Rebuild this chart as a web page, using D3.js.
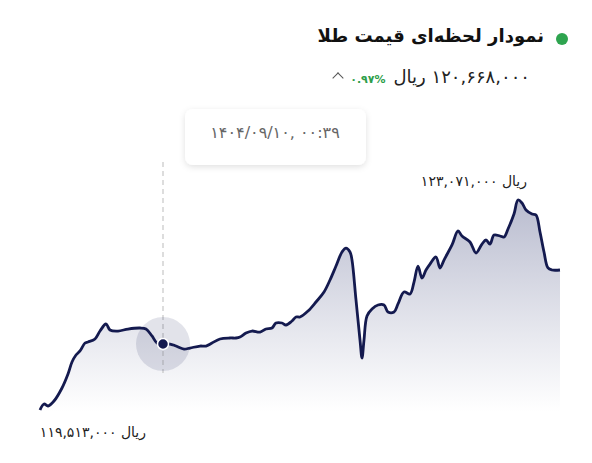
<!DOCTYPE html>
<html><head><meta charset="utf-8">
<script src="https://cdn.jsdelivr.net/npm/d3@7"></script>
<style>
body{margin:0;background:#fff;font-family:"DejaVu Sans","Noto Sans",sans-serif}
.hdr{position:absolute;direction:rtl;white-space:nowrap}
</style></head><body>
<div id="chart"></div>
<script>
// minutes since start, price in thousand rial
var times = [0,4,8,14,22,28,32,36,40,45,48,55,60,66,70,78,88,100,106,112,117,123,130,136,144,150,160,166,172,180,190,196,200,206,212,220,226,232,236,242,246,252,256,260,268,276,284,290,296,302,306,310,312,316,320,322,324,327,332,338,344,348,354,358,364,370,374,378,382,386,390,396,400,404,412,418,422,430,436,442,446,450,454,460,464,468,474,478,482,486,492,496,500,504,508,512,520]
var prices = [119513,119615,119581,119665,119886,120123,120326,120445,120513,120648,120665,120716,120851,120970,120868,120851,120885,120902,120885,120767,120648,120631,120631,120597,120546,120563,120597,120597,120648,120716,120733,120733,120750,120817,120851,120834,120885,120902,120987,120987,120953,121021,121089,121089,121190,121343,121512,121715,121952,122190,122257,122190,122054,121377,120699,120394,120699,121106,121224,121292,121292,121173,121173,121309,121512,121478,121681,121952,121749,121885,121986,122105,121919,122054,122309,122546,122461,122360,122173,122325,122393,122325,122478,122461,122444,122580,122834,123071,123020,122902,122834,122817,122529,122190,121919,121885,121885]
var hoverIndex = 21
var title = "نمودار لحظه‌ای قیمت طلا"
var priceText = "۱۲۰,۶۶۸,۰۰۰ ریال"
var changeText = "۰.۹۷%"
var tipText = "۱۴۰۴/۰۹/۱۰, ۰۰:۳۹"
var maxLabel = "۱۲۳,۰۷۱,۰۰۰ ریال"
var minLabel = "۱۱۹,۵۱۳,۰۰۰ ریال"

var width = 592, height = 463

var body = d3.select("body")
body.append("div").attr("class","hdr")
  .style("right","48px").style("top","25px")
  .style("font-size","18px").style("font-weight","bold").style("color","#111")
  .text(title)
body.append("div").attr("class","hdr")
  .style("right","24px").style("top","33px")
  .style("width","12px").style("height","12px").style("border-radius","6px")
  .style("background","#2ea44f")
var pr = body.append("div").attr("class","hdr")
  .style("right","62px").style("top","66px").style("font-size","18px").style("color","#222")
pr.append("span").text(priceText)
pr.append("span").attr("dir","ltr").style("unicode-bidi","isolate")
  .style("color","#2e9e4a").style("font-size","11px").style("font-weight","bold")
  .style("margin-right","8px").text(changeText)
pr.append("span").style("display","inline-block").style("width","7px").style("height","7px")
  .style("border-left","1.5px solid #555").style("border-top","1.5px solid #555")
  .style("transform","rotate(45deg)").style("margin-right","8px").style("vertical-align","middle")

var svg = d3.select("#chart").append("svg")
  .attr("width", width).attr("height", height)
  .style("position","absolute").style("left",0).style("top",0)

var xScale = d3.scaleLinear().domain(d3.extent(times)).range([40, 560])
var yScale = d3.scaleLinear().domain([d3.min(prices), d3.max(prices)]).range([410, 200])

var defs = svg.append("defs")
var grad = defs.append("linearGradient")
  .attr("id","fill").attr("x1",0).attr("y1",0).attr("x2",0).attr("y2",1)
grad.append("stop").attr("offset","0%").attr("stop-color","#b9bccf")
grad.append("stop").attr("offset","100%").attr("stop-color","#ffffff").attr("stop-opacity",0.9)

var data = times.map((t, i) => ({t: t, v: prices[i]}))

var area = d3.area()
  .x(d => xScale(d.t)).y0(412).y1(d => yScale(d.v))
  .curve(d3.curveCatmullRom)
var line = d3.line()
  .x(d => xScale(d.t)).y(d => yScale(d.v))
  .curve(d3.curveCatmullRom)

svg.append("path").datum(data).attr("d", area).style("fill","url(#fill)")

var hx = xScale(times[hoverIndex]), hy = yScale(prices[hoverIndex])

svg.append("line")
  .attr("x1",hx).attr("x2",hx).attr("y1",162).attr("y2",373)
  .style("stroke","#bbb").style("stroke-dasharray","5,4").style("stroke-width",1)

svg.append("circle").attr("cx",hx).attr("cy",hy).attr("r",27)
  .style("fill","#141a4f").style("opacity",0.12)

svg.append("path").datum(data).attr("d", line)
  .style("fill","none").style("stroke","#141a4f").style("stroke-width",2.8)
  .style("stroke-linejoin","round")

svg.append("circle").attr("cx",hx).attr("cy",hy).attr("r",5.5)
  .style("fill","#141a4f").style("stroke","#fff").style("stroke-width",1.5)

// tooltip
var f = defs.append("filter").attr("id","sh").attr("x","-20%").attr("y","-30%").attr("width","140%").attr("height","170%")
f.append("feDropShadow").attr("dx",0).attr("dy",2).attr("stdDeviation",3).attr("flood-color","#000").attr("flood-opacity",0.12)
var tip = svg.append("g")
tip.append("rect").attr("x",185).attr("y",109).attr("width",181).attr("height",56).attr("rx",8)
  .style("fill","#fff").style("filter","url(#sh)")
tip.append("text").attr("x",275).attr("y",138).attr("text-anchor","middle")
  .attr("direction","ltr").style("font-size","16px").style("fill","#666").text(tipText)

svg.append("text").attr("x",527).attr("y",186).attr("text-anchor","end")
  .style("font-size","14px").style("fill","#222").text(maxLabel)
svg.append("text").attr("x",146).attr("y",437).attr("text-anchor","end")
  .style("font-size","14px").style("fill","#222").text(minLabel)
</script>
</body></html>
